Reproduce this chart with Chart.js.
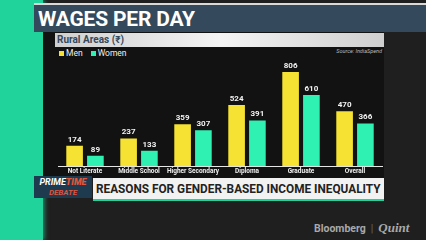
<!DOCTYPE html>
<html>
<head>
<meta charset="utf-8">
<script src="https://cdn.jsdelivr.net/npm/chart.js@4.4.0/dist/chart.umd.min.js"></script>
<style>
  html, body { margin: 0; padding: 0; }
  body { width: 426px; height: 240px; position: relative; overflow: hidden; background: #1f1f1f; font-family: Roboto, "Liberation Sans", sans-serif; }
  .abs { position: absolute; }
  #teal { left: 0; top: 0; width: 43px; height: 240px; background: #1fd39b; box-shadow: 2px 0 4px #1fd39b88; }
  #topline { left: 34px; top: 3px; width: 392px; height: 2px; background: #d9d9d9; }
  #title { left: 34px; top: 5px; width: 392px; height: 27px; background: #34495b; color: #fff; font-weight: 700; font-size: 21px; line-height: 28px; padding-left: 4px; box-sizing: border-box; letter-spacing: -0.2px; }
  #panel { left: 43px; top: 32px; width: 341px; height: 146px; background: #121212; }
  #sub { left: 55px; top: 33px; width: 329px; height: 14px; background: linear-gradient(90deg, #cfcfcf, #f4f4f4 50%, #cfcfcf); color: #34495b; font-weight: 700; font-size: 10px; line-height: 14px; padding-left: 2px; box-sizing: border-box; }
  #legend { left: 59px; top: 48px; color: #f0f0f0; font-size: 8.5px; line-height: 10px; white-space: nowrap; }
  #legend span.sw { display: inline-block; width: 5px; height: 5px; margin-right: 2px; vertical-align: 0px; }
  #legend span.gap { display: inline-block; width: 8px; }
  #source { right: 44px; top: 48px; color: #bbb; font-size: 5.5px; font-style: italic; line-height: 7px; }
  #chartbox { left: 55px; top: 56px; width: 329px; height: 120px; }
  #pt { left: 34px; top: 176px; width: 58px; height: 22px; background: #1e3a4f; text-align: center; font-style: italic; font-weight: 700; }
  #pt .a { font-size: 9px; line-height: 11px; color: #fff; margin-top: 1px; }
  #pt .a b { color: #e4553b; }
  #pt .b { font-size: 8px; line-height: 9px; color: #e4553b; font-weight: 600; }
  #lower { left: 93px; top: 178px; width: 291px; height: 23px; background: #f2f2f2; border-bottom: 2px solid #1fd39b; box-sizing: border-box; }
  #lower span { position: absolute; left: 3px; top: 4px; font-size: 12px; font-weight: 700; color: #222; white-space: nowrap; transform-origin: 0 0; }
  #brand { left: 314px; top: 221px; color: #a9a9a9; font-size: 10.5px; line-height: 13px; white-space: nowrap; }
  #brand .q { font-family: "Liberation Serif", serif; font-style: italic; font-size: 13px; font-weight: 700; }
  #brand .sep { color: #666; margin: 0 5px; font-weight: 400; }
</style>
</head>
<body>
<div id="teal" class="abs"></div>
<div id="topline" class="abs"></div>
<div id="title" class="abs">WAGES PER DAY</div>
<div id="panel" class="abs"></div>
<div id="sub" class="abs">Rural Areas (₹)</div>
<div id="legend" class="abs"><span class="sw" style="background:#f6e232"></span>Men<span class="gap"></span><span class="sw" style="background:#2ff2b2"></span>Women</div>
<div id="source" class="abs">Source: IndiaSpend</div>
<div id="chartbox" class="abs"><canvas id="wages" width="329" height="120"></canvas></div>
<div id="pt" class="abs"><div class="a">PRIME<b>TIME</b></div><div class="b">DEBATE</div></div>
<div id="lower" class="abs"><span id="lowertext">REASONS FOR GENDER-BASED INCOME INEQUALITY</span></div>
<div id="brand" class="abs"><b>Bloomberg</b><span class="sep">|</span><span class="q">Quint</span></div>
<script>
const categories = ['Not Literate', 'Middle School', 'Higher Secondary', 'Diploma', 'Graduate', 'Overall'];
const menWages = [174, 237, 359, 524, 806, 470];
const womenWages = [89, 133, 307, 391, 610, 366];

// squeeze the strap text to the box width
const strap = document.getElementById('lowertext');
const want = 285;
strap.style.transform = 'scaleX(' + (want / strap.offsetWidth) + ')';

const valueLabels = {
  id: 'valueLabels',
  afterDatasetsDraw(chart) {
    const ctx = chart.ctx;
    ctx.save();
    ctx.font = 'bold 8px Roboto';
    ctx.fillStyle = '#f2f2f2';
    ctx.textAlign = 'center';
    ctx.textBaseline = 'bottom';
    chart.data.datasets.forEach((ds, i) => {
      chart.getDatasetMeta(i).data.forEach((bar, j) => {
        ctx.fillText(ds.data[j], bar.x, bar.y - 2);
      });
    });
    ctx.restore();
  }
};

new Chart(document.getElementById('wages'), {
  type: 'bar',
  data: {
    labels: categories,
    datasets: [
      { label: 'Men', data: menWages, backgroundColor: '#f6e232' },
      { label: 'Women', data: womenWages, backgroundColor: '#2ff2b2' }
    ]
  },
  options: {
    responsive: false,
    maintainAspectRatio: false,
    animation: false,
    devicePixelRatio: 1,
    layout: { padding: { left: 3, right: 2, top: 5, bottom: 0 } },
    datasets: { bar: { categoryPercentage: 0.77, barPercentage: 0.8 } },
    plugins: { legend: { display: false }, tooltip: { enabled: false } },
    scales: {
      x: {
        grid: { display: false, drawTicks: false },
        border: { color: '#e6e6e6', width: 1 },
        ticks: { color: '#f0f0f0', font: { family: 'Roboto', size: 6.5, weight: 'bold' }, padding: 1, autoSkip: false, maxRotation: 0 }
      },
      y: { display: false, min: 0, max: 900 }
    }
  },
  plugins: [valueLabels]
});
</script>
</body>
</html>
